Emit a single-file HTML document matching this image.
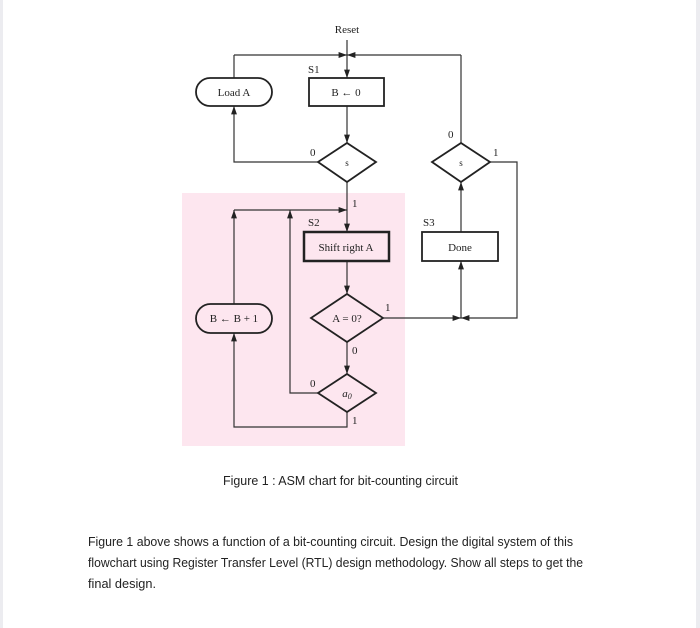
<!DOCTYPE html>
<html><head><meta charset="utf-8"><style>
html,body{margin:0;padding:0;background:#fff;}
svg{display:block;}
.t{font-family:"Liberation Serif",serif;font-size:11px;fill:#222;}
.c{font-family:"Liberation Sans",sans-serif;font-size:13px;fill:#222;}
</style></head><body>
<svg width="700" height="628" viewBox="0 0 700 628" xmlns="http://www.w3.org/2000/svg">
<defs><marker id="a" viewBox="0 0 10 10" refX="10" refY="5" markerWidth="7" markerHeight="7" orient="auto-start-reverse"><path d="M0,1.5 L10,5 L0,8.5z" fill="#222"/></marker></defs>
<rect x="0" y="0" width="3" height="628" fill="#ececf0"/>
<rect x="696" y="0" width="4" height="628" fill="#ececf0"/>
<rect x="182" y="193" width="223" height="253" fill="#fde6ef"/>
<g stroke="#333" stroke-width="1.2" fill="none">
<line x1="347" y1="40" x2="347" y2="78" marker-end="url(#a)"/>
<line x1="234" y1="78" x2="234" y2="55"/>
<line x1="234" y1="55" x2="347" y2="55" marker-end="url(#a)"/>
<line x1="461" y1="143" x2="461" y2="55"/>
<line x1="461" y1="55" x2="347" y2="55" marker-end="url(#a)"/>
<line x1="347" y1="106" x2="347" y2="143" marker-end="url(#a)"/>
<polyline points="318,162 234,162 234,106" marker-end="url(#a)"/>
<polyline points="490,162 517,162 517,318 461,318" marker-end="url(#a)"/>
<line x1="461" y1="232" x2="461" y2="182" marker-end="url(#a)"/>
<line x1="347" y1="182" x2="347" y2="232" marker-end="url(#a)"/>
<line x1="234" y1="210" x2="347" y2="210" marker-end="url(#a)"/>
<line x1="234" y1="304" x2="234" y2="210" marker-end="url(#a)"/>
<polyline points="318,393 290,393 290,210" marker-end="url(#a)"/>
<line x1="347" y1="261" x2="347" y2="294" marker-end="url(#a)"/>
<line x1="383" y1="318" x2="461" y2="318" marker-end="url(#a)"/>
<line x1="461" y1="318" x2="461" y2="261" marker-end="url(#a)"/>
<line x1="347" y1="342" x2="347" y2="374" marker-end="url(#a)"/>
<polyline points="347,412 347,427 234,427 234,333" marker-end="url(#a)"/>
</g>
<g stroke="#222" fill="#fff" stroke-width="1.8">
<rect x="196" y="78" width="76" height="28" rx="14"/>
<rect x="309" y="78" width="75" height="28"/>
<polygon points="318,162 347,143 376,162 347,182"/>
<polygon points="432,162 461,143 490,162 461,182"/>
<rect x="304" y="232" width="85" height="29" stroke-width="2.5" fill="#fde6ef"/>
<rect x="422" y="232" width="76" height="29"/>
<polygon points="311,318 347,294 383,318 347,342" fill="#fde6ef"/>
<rect x="196" y="304" width="76" height="29" rx="14.5" fill="#fde6ef"/>
<polygon points="318,393 347,374 376,393 347,412" fill="#fde6ef"/>
</g>
<g class="t">
<text x="347" y="33" text-anchor="middle">Reset</text>
<text x="308" y="73">S1</text>
<text x="234" y="96" text-anchor="middle">Load A</text>
<text x="346" y="96" text-anchor="middle">B ← 0</text>
<text x="347" y="166" text-anchor="middle" font-size="9">s</text>
<text x="461" y="166" text-anchor="middle" font-size="9">s</text>
<text x="310" y="156">0</text>
<text x="448" y="138">0</text>
<text x="493" y="156">1</text>
<text x="352" y="207">1</text>
<text x="308" y="226">S2</text>
<text x="423" y="226">S3</text>
<text x="346" y="251" text-anchor="middle">Shift right A</text>
<text x="460" y="251" text-anchor="middle">Done</text>
<text x="347" y="322" text-anchor="middle">A = 0?</text>
<text x="385" y="311">1</text>
<text x="234" y="322" text-anchor="middle">B ← B + 1</text>
<text x="352" y="354">0</text>
<text x="310" y="387">0</text>
<text x="347" y="397" text-anchor="middle" font-style="italic">a<tspan font-size="8" dy="2">0</tspan></text>
<text x="352" y="424">1</text>
</g>
<text class="c" x="223" y="485" textLength="235" lengthAdjust="spacingAndGlyphs">Figure 1 : ASM chart for bit-counting circuit</text>
<text class="c" x="88" y="546" textLength="485" lengthAdjust="spacingAndGlyphs">Figure 1 above shows a function of a bit-counting circuit. Design the digital system of this</text>
<text class="c" x="88" y="567" textLength="495" lengthAdjust="spacingAndGlyphs">flowchart using Register Transfer Level (RTL) design methodology. Show all steps to get the</text>
<text class="c" x="88" y="588" textLength="68" lengthAdjust="spacingAndGlyphs">final design.</text>
</svg>
</body></html>
